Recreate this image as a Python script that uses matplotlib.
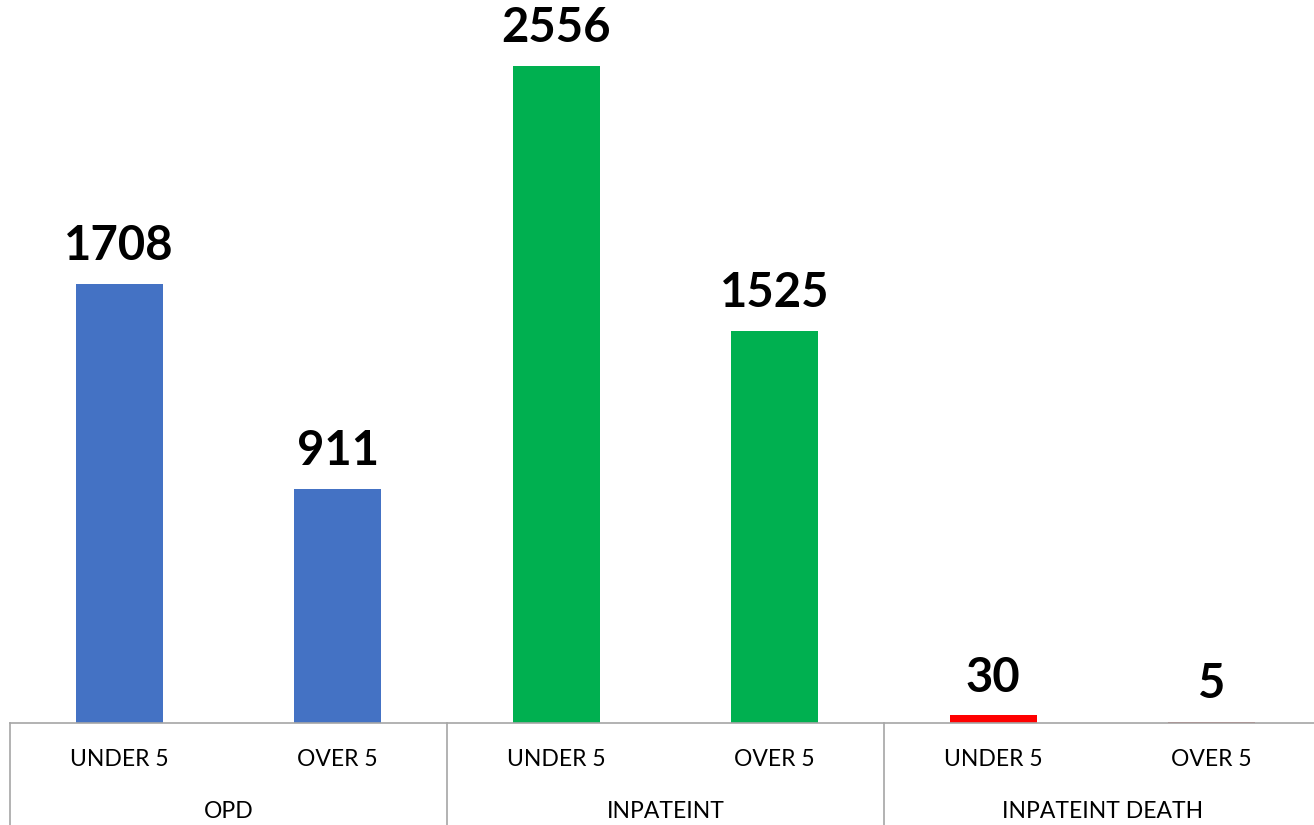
import matplotlib.pyplot as plt
from matplotlib.transforms import blended_transform_factory

groups = ['OPD', 'INPATEINT', 'INPATEINT DEATH']
sub_labels = ['UNDER 5', 'OVER 5', 'UNDER 5', 'OVER 5', 'UNDER 5', 'OVER 5']
values = [1708, 911, 2556, 1525, 30, 5]
colors = ['#4472C4', '#4472C4', '#00B050', '#00B050', '#FF0000', '#C0504D']

plt.rcParams['font.family'] = ['Lato', 'DejaVu Sans']

fig = plt.figure(figsize=(13.14, 8.25), dpi=100)
ax = fig.add_axes([10 / 1314, 102 / 825, 1311 / 1314, 723 / 825])

pos = list(range(len(values)))
ax.bar(pos, values, width=0.4, color=colors)
ax.set_xlim(-0.5, len(values) - 0.5)
ax.set_ylim(0, 723 / 657 * 2556)

for s in ['top', 'right', 'left']:
    ax.spines[s].set_visible(False)
ax.spines['bottom'].set_color('#A6A6A6')
ax.spines['bottom'].set_linewidth(1.2)
ax.set_xticks([])
ax.set_yticks([])

for x, v in zip(pos, values):
    ax.annotate(str(v), (x, v), xytext=(0, 17), textcoords='offset points',
                ha='center', va='baseline', fontsize=34, fontweight='bold')

trans = blended_transform_factory(ax.transData, ax.transAxes)
for x, lab in zip(pos, sub_labels):
    ax.text(x, -37 / 723, lab, transform=trans, ha='center', va='center', fontsize=16.5)
for i, g in enumerate(groups):
    ax.text(2 * i + 0.5, -89 / 723, g, transform=trans, ha='center', va='center', fontsize=16.5)

# group dividers below the axis
for xd in [-0.5, 1.5, 3.5, 5.5]:
    ax.plot([xd, xd], [0, -0.2], transform=trans, color='#A6A6A6', lw=1.2, clip_on=False)

fig.savefig('out.png', dpi=100)
